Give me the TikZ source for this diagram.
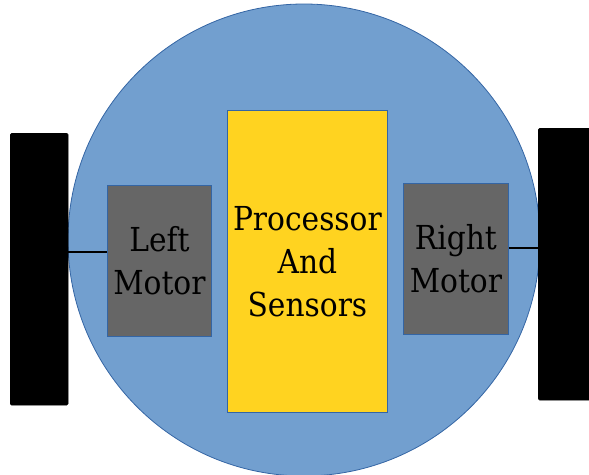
\documentclass[tikz,border=0pt]{standalone}
\usepackage{fontspec}
\setmainfont{Liberation Serif}
\newfontfamily\partfont{DejaVu Serif Condensed}
\usepackage{tikz}

\definecolor{bodyblue}{HTML}{729FCF}
\definecolor{edgeblue}{HTML}{3465A4}
\definecolor{boardyellow}{HTML}{FFD320}
\definecolor{motorgrey}{HTML}{666666}

\tikzset{
  wheel/.style={fill=black,draw=black,rounded corners=1.5pt,inner sep=0pt,anchor=north west},
  part/.style={draw=edgeblue,line width=0.8pt,inner sep=0pt,anchor=north west,align=center,
    font=\partfont\fontsize{33}{43}\selectfont},
}

\begin{document}
\begin{tikzpicture}[x=1pt,y=-1pt]
\useasboundingbox (0,0) rectangle (589,474);
\draw[fill=bodyblue,draw=edgeblue,line width=0.8pt] (304,240) circle (236pt);
\node[wheel,minimum width=58pt,minimum height=272pt] (lwheel) at (10,133) {};
\node[wheel,minimum width=53pt,minimum height=272pt] (rwheel) at (538,128) {};
\node[part,fill=motorgrey,minimum width=104pt,minimum height=151pt] (lmotor) at (107,185) {Left\\Motor};
\node[part,fill=motorgrey,minimum width=105pt,minimum height=151pt] (rmotor) at (403,183) {Right\\Motor};
\node[part,fill=boardyellow,minimum width=160pt,minimum height=302pt] (board) at (227,110) {Processor\\And\\Sensors};
\draw[line width=1.2pt] (lwheel.east |- 0,252) -- (lmotor.west |- 0,252);
\draw[line width=1.2pt] (rmotor.east |- 0,248) -- (rwheel.west |- 0,248);
\end{tikzpicture}
\end{document}
